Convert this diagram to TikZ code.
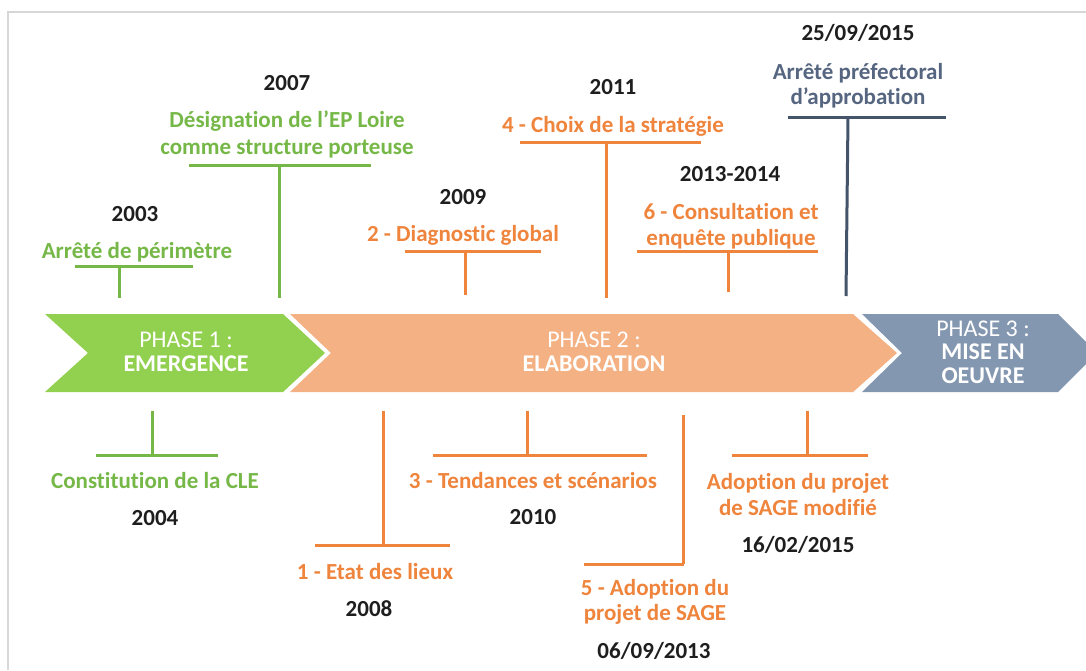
\documentclass[tikz,border=0pt]{standalone}
\usepackage{fontspec}
\setmainfont{Carlito}[Ligatures=NoCommon]
\definecolor{chgreen}{HTML}{92D050}
\definecolor{chorange}{HTML}{F4B183}
\definecolor{chblue}{HTML}{8497B0}
\definecolor{lgreen}{RGB}{118,184,72}
\definecolor{lorange}{RGB}{239,132,60}
\definecolor{lblue}{RGB}{68,84,106}
\definecolor{tblue}{RGB}{86,102,128}
\definecolor{yearc}{RGB}{30,30,30}
\definecolor{framec}{RGB}{215,215,215}
\tikzset{
  lbl/.style={anchor=base, inner sep=0pt, font=\bfseries\fontsize{23}{27}\selectfont},
  yr/.style={lbl, text=yearc},
  gtxt/.style={lbl, text=lgreen},
  otxt/.style={lbl, text=lorange},
  btxt/.style={lbl, text=tblue},
  gline/.style={draw=lgreen, line width=3pt},
  oline/.style={draw=lorange, line width=3pt},
  bline/.style={draw=lblue, line width=3pt},
  phlight/.style={anchor=base, inner sep=0pt, text=white, font=\fontsize{24}{24}\selectfont},
  phbold/.style={anchor=base, inner sep=0pt, text=white, font=\bfseries\fontsize{24}{24}\selectfont}
}
\begin{document}
\begin{tikzpicture}[x=1pt,y=-1pt]
\useasboundingbox (0,0) rectangle (1086,670);
\fill[white] (0,0) rectangle (1086,670);
\draw[framec, line width=1.2pt] (8,670) -- (8,12) -- (1086,12);

% chevrons
\fill[chgreen] (45,314) -- (283,314) -- (325,353) -- (283,392) -- (45,392) -- (88,353) -- cycle;
\fill[chorange] (290,314) -- (853,314) -- (897,353) -- (853,392) -- (290,392) -- (331,353) -- cycle;
\fill[chblue] (862,314) -- (1058,314) -- (1086,342) -- (1086,364) -- (1058,392) -- (862,392) -- (902,353) -- cycle;

\node[phlight] (p1a) at (186,347) {PHASE 1 :};
\node[phbold]  (p1b) at (186,371) {EMERGENCE};
\node[phlight] (p2a) at (594,347) {PHASE 2 :};
\node[phbold]  (p2b) at (594,371) {ELABORATION};
\node[phlight] (p3a) at (983,336) {PHASE 3 :};
\node[phbold]  (p3b) at (983,359) {MISE EN};
\node[phbold]  (p3c) at (983,383) {OEUVRE};

% ---- top events ----
% 2003
\node[yr] (y2003) at (135,221) {2003};
\node[gtxt] (e2003) at (137,258) {Arrêté de périmètre};
\coordinate (b1l) at (75,266); \coordinate (b1r) at (193,266);
\coordinate (b1j) at (119,266); \coordinate (b1e) at (119,298);
\draw[gline] (b1l) -- (b1r); \draw[gline] (b1j) -- (b1e);

% 2007
\node[yr] (y2007) at (287,90) {2007};
\node[gtxt] (e2007a) at (287,127) {Désignation de l’EP Loire};
\node[gtxt] (e2007b) at (287,154) {comme structure porteuse};
\coordinate (b2l) at (189,165); \coordinate (b2r) at (371,165);
\coordinate (b2j) at (279,165); \coordinate (b2e) at (279,298);
\draw[gline] (b2l) -- (b2r); \draw[gline] (b2j) -- (b2e);

% 2009
\node[yr] (y2009) at (463,204) {2009};
\node[otxt] (e2009) at (463,241) {2 - Diagnostic global};
\coordinate (b3l) at (405,251); \coordinate (b3r) at (541,251);
\coordinate (b3j) at (465,251); \coordinate (b3e) at (465,295);
\draw[oline] (b3l) -- (b3r); \draw[oline] (b3j) -- (b3e);

% 2011
\node[yr] (y2011) at (613,94) {2011};
\node[otxt] (e2011) at (613,132) {4 - Choix de la stratégie};
\coordinate (b4l) at (520,142); \coordinate (b4r) at (701,142);
\coordinate (b4j) at (606,142); \coordinate (b4e) at (606,298);
\draw[oline] (b4l) -- (b4r); \draw[oline] (b4j) -- (b4e);

% 2013-2014
\node[yr] (y2013) at (730,181) {2013-2014};
\node[otxt] (e2013a) at (731,219) {6 - Consultation et};
\node[otxt] (e2013b) at (731,245) {enquête publique};
\coordinate (b5l) at (637,251); \coordinate (b5r) at (818,251);
\coordinate (b5j) at (728,251); \coordinate (b5e) at (728,292);
\draw[oline] (b5l) -- (b5r); \draw[oline] (b5j) -- (b5e);

% 25/09/2015
\node[yr] (y2015b) at (858,40) {25/09/2015};
\node[btxt] (e2015ba) at (858,79) {Arrêté préfectoral};
\node[btxt] (e2015bb) at (858,104) {d’approbation};
\coordinate (b6l) at (788,117); \coordinate (b6r) at (946,117);
\coordinate (b6j) at (848,117); \coordinate (b6e) at (846,296);
\draw[bline] (b6l) -- (b6r); \draw[bline] (b6j) -- (b6e);

% ---- bottom events ----
% 2004
\coordinate (c1s) at (152,411); \coordinate (c1j) at (152,455);
\coordinate (c1l) at (96,455); \coordinate (c1r) at (218,455);
\draw[gline] (c1s) -- (c1j); \draw[gline] (c1l) -- (c1r);
\node[gtxt] (e2004) at (155,488) {Constitution de la CLE};
\node[yr] (y2004) at (155,525) {2004};

% 2008
\coordinate (c2s) at (383,411); \coordinate (c2j) at (383,545);
\coordinate (c2l) at (315,545); \coordinate (c2r) at (450,545);
\draw[oline] (c2s) -- (c2j); \draw[oline] (c2l) -- (c2r);
\node[otxt] (e2008) at (375,579) {1 - Etat des lieux};
\node[yr] (y2008) at (369,616) {2008};

% 2010
\coordinate (c3s) at (527,411); \coordinate (c3j) at (527,455);
\coordinate (c3l) at (433,455); \coordinate (c3r) at (647,455);
\draw[oline] (c3s) -- (c3j); \draw[oline] (c3l) -- (c3r);
\node[otxt] (e2010) at (533,488) {3 - Tendances et scénarios};
\node[yr] (y2010) at (533,524) {2010};

% 06/09/2013
\coordinate (c4s) at (683,415); \coordinate (c4j) at (683,564);
\coordinate (c4l) at (584,564); \coordinate (c4r) at (684,564);
\draw[oline] (c4s) -- (c4j); \draw[oline] (c4l) -- (c4r);
\node[otxt] (e2013ca) at (655,595) {5 - Adoption du};
\node[otxt] (e2013cb) at (655,620) {projet de SAGE};
\node[yr] (y2013c) at (654,658) {06/09/2013};

% 16/02/2015
\coordinate (c5s) at (807,411); \coordinate (c5j) at (807,455);
\coordinate (c5l) at (732,455); \coordinate (c5r) at (868,455);
\draw[oline] (c5s) -- (c5j); \draw[oline] (c5l) -- (c5r);
\node[otxt] (e2015aa) at (798,489) {Adoption du projet};
\node[otxt] (e2015ab) at (798,515) {de SAGE modifié};
\node[yr] (y2015a) at (798,552) {16/02/2015};
\end{tikzpicture}
\end{document}
